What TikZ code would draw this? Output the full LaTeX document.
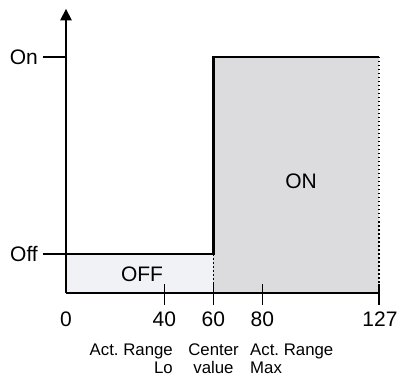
\documentclass[tikz,border=0pt]{standalone}
\usepackage{fontspec}
\setmainfont{Liberation Sans}
\definecolor{offfill}{HTML}{F0F2F5}
\definecolor{onfill}{HTML}{DCDCDF}
\begin{document}
\begin{tikzpicture}[x=1pt,y=-1pt,
  axis/.style={line width=1.3pt,black},
  signal/.style={line width=2.6pt,black},
  dotline/.style={line width=1.2pt,black,dash pattern=on 1.5pt off 2.5pt},
  bigtxt/.style={font=\fontsize{21}{23}\selectfont,inner sep=0pt},
  smalltxt/.style={font=\fontsize{16.8}{18}\selectfont,inner sep=0pt,align=center}]
\useasboundingbox (0,0) rectangle (401,379);
% coordinates
\coordinate (o) at (66,293);
\coordinate (top) at (66,9);
\coordinate (onY) at (66,57);
\coordinate (offY) at (66,254);
\coordinate (onL) at (43,57);
\coordinate (offL) at (43,254);
\coordinate (x60off) at (213.3,254);
\coordinate (x60on) at (213.3,57);
\coordinate (x127on) at (379,57);
\coordinate (x127) at (379,293);
\coordinate (x60) at (213.3,293);
% fills
\fill[offfill] (o) rectangle (x60off);
\fill[onfill] (x60) rectangle (x127on);
% dotted lines
\draw[dotline] (x60off) -- (x60);
\draw[dotline] (x127on) -- (x127);
% axes
\draw[axis] (o) -- (66,20);
\fill (top) -- (60,20.5) -- (72,20.5) -- cycle;
\draw[axis] (o) -- (x127);
% y ticks
\draw[axis] (onL) -- (onY);
\draw[axis] (offL) -- (offY);
% x ticks
\foreach \xx in {164.3,213.3,262.3,379}{
  \draw[axis] (\xx,284) -- (\xx,305);
}
% signal
\draw[signal,line join=miter] (offY) -- (x60off) -- (x60on) -- (x127on);
% labels
\node[bigtxt,anchor=east] (lon) at (38,57.5) {On};
\node[bigtxt,anchor=east] (loff) at (38,254.5) {Off};
\node[bigtxt] (lOFF) at (142,274.5) {OFF};
\node[bigtxt] (lON) at (301,181.5) {ON};
\node[bigtxt] (n0) at (66,319.5) {0};
\node[bigtxt] (n40) at (164.3,319.5) {40};
\node[bigtxt] (n60) at (213.3,319.5) {60};
\node[bigtxt] (n80) at (262.3,319.5) {80};
\node[bigtxt] (n127) at (380,319.5) {127};
\node[smalltxt,align=right,anchor=north east] (lo) at (173,344) {Act.\ Range\\Lo};
\node[smalltxt,anchor=north] (cv) at (213.5,344) {Center\\value};
\node[smalltxt,align=left,anchor=north west] (mx) at (250,344) {Act.\ Range\\Max};
\end{tikzpicture}
\end{document}
